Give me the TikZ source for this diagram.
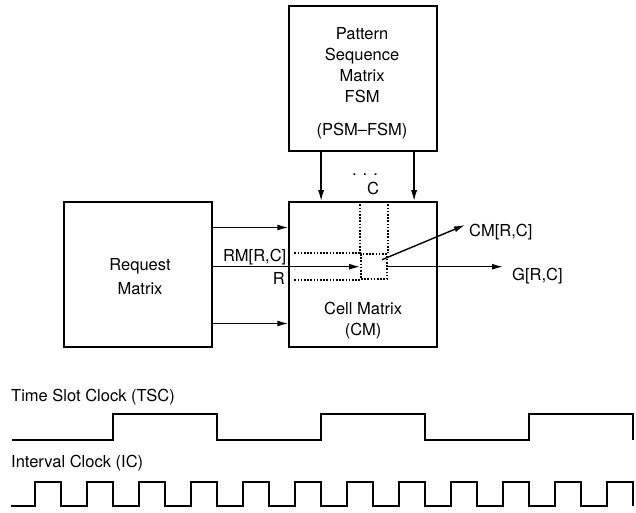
\documentclass[tikz,border=0pt]{standalone}
\usepackage{fontspec}
\setmainfont{TeX Gyre Heros}
\usetikzlibrary{arrows.meta,positioning}
\tikzset{
  box/.style={
    draw,
    line width=1.6pt,
    minimum width=148pt,
    minimum height=145pt,
    inner sep=0pt
  },
  boxtext/.style={
    align=center,
    font=\fontsize{16.5}{21}\selectfont,
    inner sep=0pt
  },
  cellbox/.style={
    draw,
    line width=2pt,
    dash pattern=on 1.6pt off 1.6pt,
    minimum width=26pt,
    minimum height=25pt,
    inner sep=0pt
  },
  dotline/.style={
    line width=2pt,
    dash pattern=on 1.6pt off 1.6pt
  },
  arrow/.style={
    -{Latex[length=11pt,width=6pt]},
    line width=1.4pt
  },
  lbl/.style={
    font=\fontsize{16.5}{20}\selectfont,
    inner sep=0pt
  },
  wave/.style={
    line width=1.6pt
  }
}
\begin{document}
\begin{tikzpicture}[x=1pt, y=1pt]
\useasboundingbox (0,0) rectangle (636,512);

\node[box] (rm) at (138,237.5) {};
\node[box, right=75.5pt of rm] (cm) {};
\node[box, above=49.5pt of cm] (psm) {};

\node[boxtext] (psmtext) at ([xshift=-1pt, yshift=-4.5pt]psm.center)
  {Pattern\\Sequence\\Matrix\\FSM\\[12pt](PSM--FSM)};
\node[boxtext] (rmtext) at ([xshift=2pt, yshift=-2.5pt]rm.center)
  {Request\\[3pt]Matrix};
\node[boxtext] (cmtext) at ([yshift=-46pt]cm.center)
  {Cell Matrix\\(CM)};

\node[cellbox] (cell) at (374,245.3) {};
\draw[dotline] (cell.north west |- cm.north) -- (cell.north west);
\draw[dotline] (cell.north east |- cm.north) -- (cell.north east);
\draw[dotline] ([xshift=6pt]cm.west |- cell.north west) -- (cell.north west);
\draw[dotline] ([xshift=6pt]cm.west |- cell.south west) -- (cell.south west);

\node[lbl] (cdots) at (365,337) {. . .};
\node[lbl] (clbl) at (373,324) {C};
\node[lbl, anchor=east] (rmlbl) at (286.5,254.8) {RM[R,C]};
\node[lbl, anchor=east] (rlbl) at (285,233.3) {R};

\draw[arrow] ([xshift=-42pt]psm.south) -- ([xshift=-42pt]psm.south |- cm.north);
\draw[arrow] ([xshift=51pt]psm.south) -- ([xshift=51pt]psm.south |- cm.north);
\draw[arrow] ([yshift=47pt]rm.east) -- ([yshift=47pt]cm.west);
\draw[arrow] (rm.east |- cell.west) -- (cell.west);
\draw[arrow] ([yshift=-49pt]rm.east) -- ([yshift=-49pt]cm.west);

\coordinate (cmout) at (465,287);
\coordinate (gout) at ([xshift=115pt]cell.east);
\draw[arrow] ([xshift=8pt, yshift=7pt]cell.center) -- (cmout);
\draw[arrow] (cell.east) -- (gout);
\node[lbl, anchor=west] (cmlbl) at (469,279.6) {CM[R,C]};
\node[lbl, anchor=west] (glbl) at (512,236.1) {G[R,C]};

\node[lbl, anchor=west] (tsclbl) at (11,115) {Time Slot Clock (TSC)};
\draw[wave] (12,72) -- (113,72) -- (113,98) -- (217,98) -- (217,72) -- (321,72)
  -- (321,98) -- (425,98) -- (425,72) -- (529,72) -- (529,98) -- (633,98) -- (633,72);

\node[lbl, anchor=west] (iclbl) at (11,49) {Interval Clock (IC)};
\draw[wave] (11,6) foreach \k in {0,...,11} {
  -- (35+52*\k,6) -- (35+52*\k,30) -- (61+52*\k,30) -- (61+52*\k,6)};

\end{tikzpicture}
\end{document}
